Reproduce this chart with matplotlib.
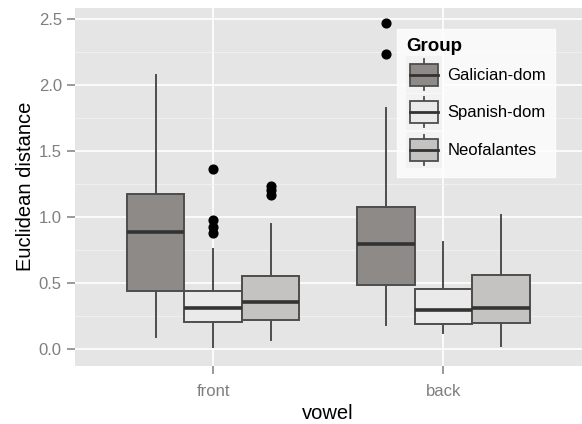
import matplotlib
matplotlib.use("Agg")
import matplotlib.pyplot as plt
from matplotlib.legend_handler import HandlerBase
from matplotlib.patches import Rectangle, Patch
from matplotlib.lines import Line2D
import numpy as np

plt.rcParams['font.family'] = ['Liberation Sans', 'DejaVu Sans']

vowels = ["front", "back"]
groups = ["Galician-dom", "Spanish-dom", "Neofalantes"]
fills = ["#8E8A88", "#EAEAEA", "#C5C3C1"]

# stats per vowel per group: whislo, q1, med, q3, whishi
whislo = {"front": [0.095, 0.02, 0.07], "back": [0.186, 0.127, 0.028]}
q1 = {"front": [0.44, 0.208, 0.22], "back": [0.484, 0.19, 0.203]}
med = {"front": [0.89, 0.316, 0.36], "back": [0.80, 0.30, 0.316]}
q3 = {"front": [1.18, 0.44, 0.555], "back": [1.077, 0.454, 0.56]}
whishi = {"front": [2.08, 0.763, 0.95], "back": [1.83, 0.81, 1.02]}
outliers = {"front": [[], [1.37, 0.98, 0.93, 0.88], [1.24, 1.205, 1.17]],
            "back": [[2.47, 2.24], [], []]}

yticks = [0.0, 0.5, 1.0, 1.5, 2.0, 2.5]
ytick_labels = ["0.0", "0.5", "1.0", "1.5", "2.0", "2.5"]

W, H = 582, 424
fig = plt.figure(figsize=(W / 100, H / 100), dpi=100)
ax = fig.add_axes([75 / W, (H - 365.5) / H, (581.5 - 75) / W, (365.5 - 7.5) / H])
ax.set_facecolor("#E5E5E5")

edge = "#4D4D4D"
offsets = [-0.25, 0.0, 0.25]
for vi, v in enumerate(vowels):
    for gi, g in enumerate(groups):
        st = [dict(whislo=whislo[v][gi], q1=q1[v][gi], med=med[v][gi],
                   q3=q3[v][gi], whishi=whishi[v][gi], fliers=outliers[v][gi])]
        ax.bxp(st, positions=[vi + 1 + offsets[gi]], widths=0.25,
               patch_artist=True, showcaps=False, manage_ticks=False,
               boxprops=dict(facecolor=fills[gi], edgecolor=edge, linewidth=1.4),
               whiskerprops=dict(color=edge, linewidth=1.4),
               medianprops=dict(color="#333333", linewidth=2.6),
               flierprops=dict(marker="o", markerfacecolor="black",
                               markeredgecolor="black", markersize=6.3))

ax.set_xlim(0.4, 2.6)
ax.set_ylim(-0.1225, 2.59)
ax.set_xticks([1, 2])
ax.set_xticklabels(vowels)
ax.set_yticks(yticks)
ax.set_yticklabels(ytick_labels)
ax.set_yticks([0.25, 0.75, 1.25, 1.75, 2.25], minor=True)
ax.grid(True, which="major", color="white", linewidth=1.2)
ax.grid(True, which="minor", axis="y", color="#F2F2F2", linewidth=0.6)
ax.set_axisbelow(True)
for s in ax.spines.values():
    s.set_visible(False)
ax.tick_params(axis="both", which="major", colors="#7F7F7F", labelcolor="#7F7F7F",
               labelsize=12, length=6, width=1.1)
ax.tick_params(axis="y", which="major", pad=3.5)
ax.tick_params(axis="x", which="major", pad=7)
ax.tick_params(axis="both", which="minor", length=0)
ax.set_xlabel("vowel", fontsize=14.5, labelpad=4)
ax.set_ylabel("Euclidean distance", fontsize=14.5, labelpad=3)


class BoxHandler(HandlerBase):
    def create_artists(self, legend, orig_handle, xdescent, ydescent, width, height,
                       fontsize, trans):
        fc = orig_handle.get_facecolor()
        arts = []
        bx, by = -xdescent, -ydescent
        bg = Rectangle((bx, by), width, height, facecolor="#F2F2F2",
                       edgecolor="none", transform=trans)
        arts.append(bg)
        x0 = bx + width * 0.12
        x1 = bx + width * 0.88
        y0 = by + height * 0.2
        y1 = by + height * 0.8
        xm = bx + width / 2
        arts.append(Line2D([xm, xm], [by + height * 0.08, y0], color=edge,
                           linewidth=1.3, transform=trans))
        arts.append(Line2D([xm, xm], [y1, by + height * 0.92], color=edge,
                           linewidth=1.3, transform=trans))
        arts.append(Rectangle((x0, y0), x1 - x0, y1 - y0, facecolor=fc,
                              edgecolor=edge, linewidth=1.3, transform=trans))
        ym = by + height / 2
        arts.append(Line2D([x0, x1], [ym, ym], color="#333333", linewidth=2.0,
                           transform=trans))
        return arts


handles = [Patch(facecolor=f, edgecolor=edge) for f in fills]
leg = ax.legend(handles, groups, handler_map={Patch: BoxHandler()},
                title="Group", loc="upper left",
                bbox_to_anchor=(397 / W, (H - 29) / H), bbox_transform=fig.transFigure,
                fontsize=12, title_fontsize=13.5, frameon=True, fancybox=False,
                handlelength=2.16, handleheight=2.97, labelspacing=0.08,
                handletextpad=0.3, borderpad=0.55, borderaxespad=0)
leg.get_frame().set_facecolor("white")
leg.get_frame().set_edgecolor("white")
leg.get_title().set_fontweight("bold")
leg._legend_box.align = "left"

fig.savefig("out.png", dpi=100)
